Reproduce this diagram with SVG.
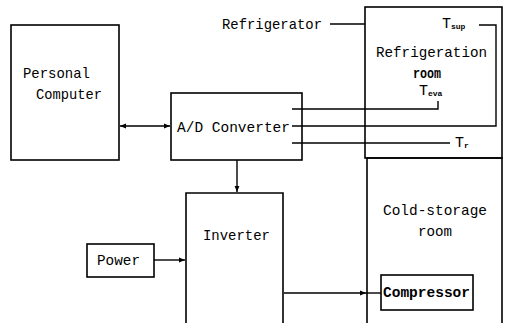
<svg xmlns="http://www.w3.org/2000/svg" width="507" height="323" viewBox="0 0 507 323">
<style>
.box{fill:none;stroke:#000;stroke-width:1.6}
.ln{fill:none;stroke:#000;stroke-width:1.4}
.t{font-family:"Liberation Mono","DejaVu Sans Mono",monospace;font-size:15px;fill:#000}
.s{font-family:"Liberation Mono","DejaVu Sans Mono",monospace;font-size:8px;font-weight:bold;fill:#000}
</style>
<defs>
<marker id="ah" viewBox="0 0 10 10" refX="10" refY="5" markerWidth="8" markerHeight="6" markerUnits="userSpaceOnUse" orient="auto-start-reverse">
<path d="M0,1 L10,5 L0,9 Z" fill="#000"/>
</marker>
</defs>
<rect width="507" height="323" fill="#fff"/>
<g id="connectors">
<line class="ln" x1="120" y1="126" x2="170" y2="126" marker-start="url(#ah)" marker-end="url(#ah)"/>
<line class="ln" x1="237" y1="160" x2="237" y2="192" marker-end="url(#ah)"/>
<line class="ln" x1="154" y1="260" x2="185" y2="260" marker-end="url(#ah)"/>
<line class="ln" x1="284" y1="293" x2="366" y2="293" marker-end="url(#ah)"/>
<line class="ln" x1="366" y1="293" x2="381" y2="293"/>
<line class="ln" x1="330" y1="24" x2="365" y2="24"/>
<polyline class="ln" points="292,109 438,109 438,101"/>
<polyline class="ln" points="292,126 496,126 496,25 479,25"/>
<line class="ln" x1="292" y1="143" x2="450" y2="143"/>
</g>
<g id="pc">
<rect class="box" x="11" y="25" width="108" height="135"/>
<text class="t" x="23" y="78" textLength="67" lengthAdjust="spacingAndGlyphs">Personal</text>
<text class="t" x="36" y="99" textLength="66" lengthAdjust="spacingAndGlyphs">Computer</text>
</g>
<g id="adc">
<rect class="box" x="171" y="93" width="131" height="67"/>
<text class="t" x="177" y="132" textLength="113" lengthAdjust="spacingAndGlyphs">A/D Converter</text>
</g>
<g id="inverter">
<polyline class="box" points="186,324 186,193 283,193 283,324"/>
<text class="t" x="203" y="240" textLength="67" lengthAdjust="spacingAndGlyphs">Inverter</text>
</g>
<g id="power">
<rect class="box" x="87" y="244" width="67" height="33"/>
<text class="t" x="97" y="265" textLength="43" lengthAdjust="spacingAndGlyphs">Power</text>
</g>
<g id="refrigerator">
<text class="t" x="222" y="29" textLength="100" lengthAdjust="spacingAndGlyphs">Refrigerator</text>
</g>
<g id="refroom">
<rect class="box" x="365" y="7" width="137" height="151"/>
<text class="t" x="376" y="57" textLength="111" lengthAdjust="spacingAndGlyphs">Refrigeration</text>
<text class="t" x="413" y="78" font-size="11" font-weight="bold" textLength="28" lengthAdjust="spacingAndGlyphs">room</text>
</g>
<g id="t-sup">
<text class="t" x="442" y="28" font-size="16">T<tspan class="s" dy="1">sup</tspan></text>
</g>
<g id="t-eva">
<text class="t" x="419" y="95" font-size="16">T<tspan class="s" dy="1">eva</tspan></text>
</g>
<g id="t-r">
<text class="t" x="455" y="147" font-size="16">T<tspan class="s" dy="1">r</tspan></text>
</g>
<g id="coldroom">
<polyline class="box" points="367,324 367,158 502,158 502,324"/>
<text class="t" x="383" y="215" textLength="104" lengthAdjust="spacingAndGlyphs">Cold-storage</text>
<text class="t" x="418" y="236" textLength="34" lengthAdjust="spacingAndGlyphs">room</text>
</g>
<g id="compressor">
<rect class="box" x="381" y="275" width="92" height="35"/>
<text class="t" x="383" y="297" font-weight="bold" textLength="87" lengthAdjust="spacingAndGlyphs">Compressor</text>
</g>
</svg>
